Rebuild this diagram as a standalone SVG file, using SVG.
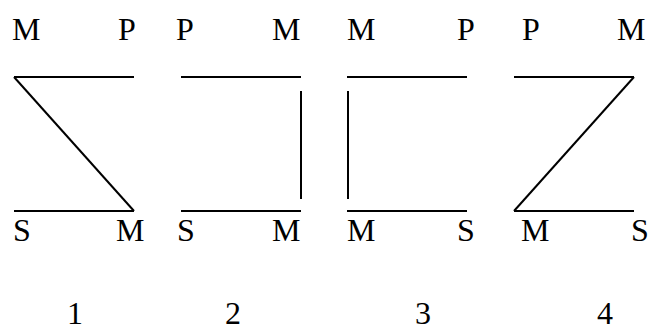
<svg xmlns="http://www.w3.org/2000/svg" width="648" height="331" viewBox="0 0 648 331">
<style>
text{font-family:'Liberation Serif','Times New Roman','DejaVu Serif',serif;font-size:32px;fill:#000}
line{stroke:#000;stroke-width:2;stroke-linecap:butt}
</style>
<rect width="648" height="331" fill="#fff"/>
<g id="labels">
<text x="12" y="40">M</text><text x="118" y="40">P</text>
<text x="176" y="40">P</text><text x="272" y="40">M</text>
<text x="347" y="40">M</text><text x="457" y="40">P</text>
<text x="522" y="40">P</text><text x="617" y="40">M</text>
<text x="13" y="241">S</text><text x="116" y="241">M</text>
<text x="177" y="241">S</text><text x="272" y="241">M</text>
<text x="347" y="241">M</text><text x="457" y="241">S</text>
<text x="521" y="241">M</text><text x="631" y="241">S</text>
<text x="75" y="324" text-anchor="middle">1</text>
<text x="233" y="324" text-anchor="middle">2</text>
<text x="423" y="324" text-anchor="middle">3</text>
<text x="605" y="324" text-anchor="middle">4</text>
</g>
<g id="connectors">
<line x1="14" y1="77" x2="134" y2="77"/>
<line x1="14" y1="77" x2="134" y2="211"/>
<line x1="14" y1="211" x2="134" y2="211"/>
<line x1="181" y1="77" x2="301" y2="77"/>
<line x1="301" y1="91" x2="301" y2="199"/>
<line x1="181" y1="211" x2="301" y2="211"/>
<line x1="347" y1="77" x2="467" y2="77"/>
<line x1="348" y1="91" x2="348" y2="199"/>
<line x1="347" y1="211" x2="467" y2="211"/>
<line x1="514" y1="77" x2="634" y2="77"/>
<line x1="634" y1="77" x2="514" y2="211"/>
<line x1="514" y1="211" x2="634" y2="211"/>
</g>
</svg>
